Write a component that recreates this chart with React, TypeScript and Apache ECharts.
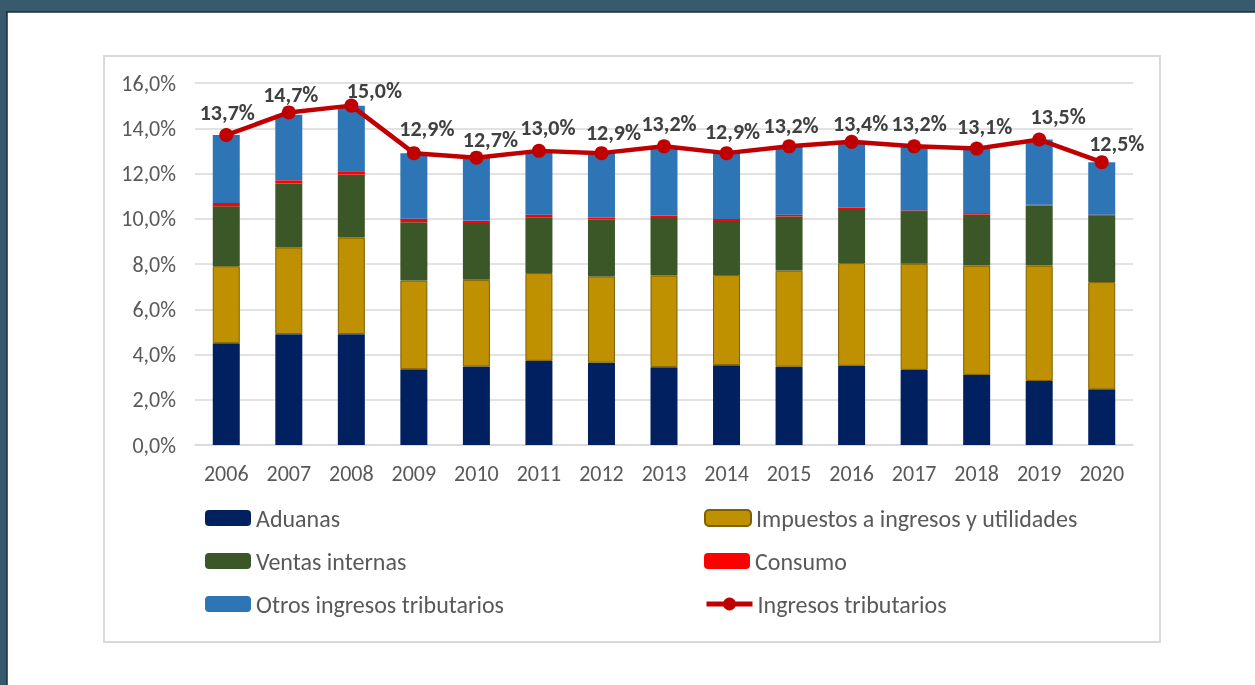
import React, { useEffect, useRef } from "react";
import * as echarts from "echarts";

const years = ["2006", "2007", "2008", "2009", "2010", "2011", "2012", "2013", "2014", "2015", "2016", "2017", "2018", "2019", "2020"];
const aduanas = [4.5, 4.9, 4.9, 3.35, 3.47, 3.72, 3.64, 3.44, 3.53, 3.46, 3.5, 3.32, 3.1, 2.83, 2.46];
const impuestos = [3.4, 3.83, 4.27, 3.92, 3.83, 3.88, 3.81, 4.05, 3.98, 4.25, 4.54, 4.69, 4.83, 5.1, 4.74];
const ventas = [2.65, 2.82, 2.78, 2.58, 2.51, 2.47, 2.51, 2.54, 2.39, 2.39, 2.39, 2.29, 2.25, 2.65, 2.95];
const consumo = [0.15, 0.15, 0.15, 0.15, 0.1, 0.11, 0.08, 0.1, 0.09, 0.08, 0.07, 0.07, 0.07, 0.04, 0.03];
const otros = [3.0, 2.9, 2.9, 2.9, 2.78, 2.82, 2.86, 3.07, 2.91, 3.02, 2.9, 2.83, 2.85, 2.88, 2.32];
const ingresos = [13.7, 14.7, 15.0, 12.9, 12.7, 13.0, 12.9, 13.2, 12.9, 13.2, 13.4, 13.2, 13.1, 13.5, 12.5];

// label placement tweaks (dx, dy in px relative to the point), mimicking the original layout
const labelDx = [1, 2, 23, 13, 14, 9, 12, 5, 6, 2, 9, 5, 8, 19, 15];
const labelDy = [-23, -18, -15, -25, -18, -23, -21, -23, -22, -21, -18, -23, -22, -23, -19];

const FONT = "Carlito, Lato, 'Open Sans', sans-serif";
const fmt = (v: number) => v.toFixed(1).replace(".", ",") + "%";

export default function App() {
  const ref = useRef<HTMLDivElement>(null);
  useEffect(() => {
    if (!ref.current) return;
    const chart = echarts.init(ref.current, null, { renderer: "svg" });
    const barBase = { type: "bar", stack: "t", barWidth: 27 };
    const legendItem = (name: string, left: number, top: number, extra: any = {}) => ({
      show: true,
      left,
      top,
      padding: 0,
      data: [name],
      itemWidth: 46,
      itemHeight: 16,
      itemGap: 0,
      selectedMode: false,
      textStyle: { fontSize: 24, color: "#595959", fontFamily: FONT },
      ...extra,
    });
    chart.setOption({
      animation: false,
      textStyle: { fontFamily: FONT },
      graphic: [
        { type: "rect", z: -10, shape: { x: 0, y: 0, width: 1255, height: 685 }, style: { fill: "#375a6d" } },
        { type: "rect", z: -9, shape: { x: 7, y: 12, width: 1250, height: 680 }, style: { fill: "#ffffff", stroke: "#1e2d36", lineWidth: 1.5 } },
        { type: "rect", z: -8, shape: { x: 104, y: 56, width: 1056, height: 586 }, style: { fill: "#ffffff", stroke: "#d9d9d9", lineWidth: 2 } },
      ],
      legend: [
        legendItem("Aduanas", 205, 506),
        legendItem("Impuestos a ingresos y utilidades", 704, 506),
        legendItem("Ventas internas", 205, 549),
        legendItem("Consumo", 704, 549),
        legendItem("Otros ingresos tributarios", 205, 592),
        legendItem("Ingresos tributarios", 704, 592, { lineStyle: { width: 5 } }),
      ],
      grid: { left: 195, right: 122, top: 83, bottom: 240 },
      xAxis: {
        type: "category",
        data: years,
        axisTick: { show: false },
        axisLine: { lineStyle: { color: "#d9d9d9", width: 1.5 } },
        axisLabel: { color: "#595959", fontSize: 22, margin: 17, fontFamily: FONT },
      },
      yAxis: {
        type: "value",
        min: 0,
        max: 16,
        interval: 2,
        axisLabel: { color: "#595959", fontSize: 22, margin: 19, formatter: (v: number) => fmt(v), fontFamily: FONT },
        splitLine: { lineStyle: { color: "#d9d9d9", width: 1.5 } },
      },
      series: [
        { ...barBase, name: "Aduanas", data: aduanas, itemStyle: { color: "#002060" } },
        { ...barBase, name: "Impuestos a ingresos y utilidades", data: impuestos, itemStyle: { color: "#bf9000", borderColor: "#7f6000", borderWidth: 1 } },
        { ...barBase, name: "Ventas internas", data: ventas, itemStyle: { color: "#3b5727" } },
        { ...barBase, name: "Consumo", data: consumo, itemStyle: { color: "#ff0000" } },
        { ...barBase, name: "Otros ingresos tributarios", data: otros, itemStyle: { color: "#2e75b6" } },
        {
          type: "line",
          name: "Ingresos tributarios",
          data: ingresos.map((v, i) => ({ value: v, label: { offset: [labelDx[i], labelDy[i]] } })),
          symbol: "circle",
          symbolSize: 14,
          z: 5,
          lineStyle: { color: "#c00000", width: 4.5 },
          itemStyle: { color: "#c00000" },
          label: {
            show: true,
            position: "inside",
            formatter: (p: any) => fmt(p.value),
            fontSize: 22,
            fontWeight: "bold",
            color: "#404040",
            fontFamily: FONT,
          },
        },
      ],
    });
    return () => chart.dispose();
  }, []);
  return <div ref={ref} style={{ position: "fixed", left: 0, top: 0, width: 1255, height: 685 }} />;
}
